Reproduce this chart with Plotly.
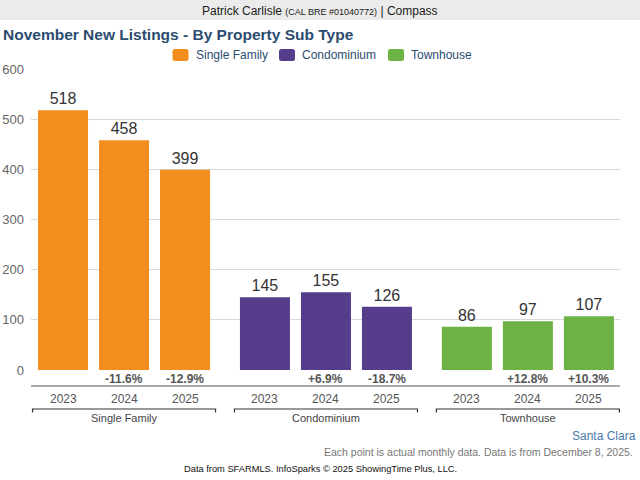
import plotly.graph_objects as go

# ---- data ----
groups = ["Single Family", "Condominium", "Townhouse"]
years = ["2023", "2024", "2025"]
single_family = [518, 458, 399]
condominium = [145, 155, 126]
townhouse = [86, 97, 107]
pct_single_family = ["", "-11.6%", "-12.9%"]
pct_condominium = ["", "+6.9%", "-18.7%"]
pct_townhouse = ["", "+12.8%", "+10.3%"]
colors = ["#F28E1E", "#553D8C", "#6CB244"]
y_ticks = [0, 100, 200, 300, 400, 500, 600]

series = [single_family, condominium, townhouse]
pcts = [pct_single_family, pct_condominium, pct_townhouse]

# layout geometry (pixels)
FW, FH = 640, 480
L, R, T, B = 31, 620, 69, 370
W, H = R - L, B - T
GROUP_STRIDE = 3.31
FONT = "Arial, Liberation Sans"
LEGEND_X = [172.5, 279, 388]  # swatch left edges in px


def px(xp):
    return (xp - L) / W


def py(yp):
    return (B - yp) / H


def pos(g, i):
    return g * GROUP_STRIDE + i


fig = go.Figure()
for g, name in enumerate(groups):
    fig.add_trace(go.Bar(
        name=name,
        x=[pos(g, i) for i in range(len(years))],
        y=series[g],
        width=0.82,
        marker=dict(color=colors[g], line=dict(width=0)),
        text=[str(v) for v in series[g]],
        textposition="outside",
        textfont=dict(size=16, color="#333333", family=FONT),
        cliponaxis=False,
        hoverinfo="skip",
        showlegend=False,
    ))

annotations = []
shapes = []

# header band
shapes.append(dict(type="rect", xref="paper", yref="paper",
                   x0=px(0), x1=px(FW), y0=py(20), y1=py(0),
                   fillcolor="#EBEBEB", line=dict(width=0), layer="below"))
annotations.append(dict(
    xref="paper", yref="paper", x=px(320), y=py(11), xanchor="center", yanchor="middle",
    text="Patrick Carlisle <span style='font-size:9px'>(CAL BRE #01040772)</span> | Compass",
    showarrow=False, font=dict(size=12, color="#1a1a1a", family=FONT)))

# title
annotations.append(dict(
    xref="paper", yref="paper", x=px(1), y=py(34), xanchor="left", yanchor="middle",
    text="<b>November New Listings - By Property Sub Type</b>",
    showarrow=False, font=dict(size=15.5, color="#2B4C6F", family=FONT)))

# legend (swatches + labels)
for g, name in enumerate(groups):
    x0p, x1p = LEGEND_X[g], LEGEND_X[g] + 16
    y0p, y1p = 49, 61
    r = 2.5
    xa, xb = px(x0p), px(x1p)
    rx = r / W
    ry = r / H
    ya, yb = py(y1p), py(y0p)  # bottom, top in paper
    path = (f"M {xa + rx},{ya} L {xb - rx},{ya} Q {xb},{ya} {xb},{ya + ry} "
            f"L {xb},{yb - ry} Q {xb},{yb} {xb - rx},{yb} L {xa + rx},{yb} "
            f"Q {xa},{yb} {xa},{yb - ry} L {xa},{ya + ry} Q {xa},{ya} {xa + rx},{ya} Z")
    shapes.append(dict(type="path", xref="paper", yref="paper", path=path,
                       fillcolor=colors[g], line=dict(width=0)))
    annotations.append(dict(
        xref="paper", yref="paper", x=px(x1p + 5), y=py(54.5), xanchor="left", yanchor="middle",
        text=name, showarrow=False,
        font=dict(size=12, color="#2B4C6F", family=FONT)))

# axis line below bars
shapes.append(dict(type="line", xref="paper", yref="paper", x0=0, x1=1,
                   y0=py(386), y1=py(386), line=dict(color="#555555", width=1.2)))

for g, name in enumerate(groups):
    for i, yr in enumerate(years):
        x = pos(g, i)
        if pcts[g][i]:
            annotations.append(dict(
                xref="x", yref="paper", x=x, y=py(379), xanchor="center", yanchor="middle",
                text="<b>" + pcts[g][i] + "</b>", showarrow=False,
                font=dict(size=12, color="#555555", family=FONT)))
        annotations.append(dict(
            xref="x", yref="paper", x=x, y=py(398.5), xanchor="center", yanchor="middle",
            text=yr, showarrow=False,
            font=dict(size=12, color="#555555", family=FONT)))
    c = pos(g, 1)
    x0, x1 = c - 1.5, c + 1.5
    shapes.append(dict(type="path", xref="x", yref="paper",
                       path=f"M {x0},{py(412.5)} L {x0},{py(409)} L {x1},{py(409)} L {x1},{py(412.5)}",
                       line=dict(color="#333333", width=1.2)))
    annotations.append(dict(
        xref="x", yref="paper", x=c, y=py(417.5), xanchor="center", yanchor="middle",
        text=name, showarrow=False,
        font=dict(size=11, color="#444444", family=FONT)))

# footer texts
annotations.append(dict(
    xref="paper", yref="paper", x=px(638), y=py(436), xanchor="right", yanchor="middle",
    text="Santa Clara", showarrow=False,
    font=dict(size=12, color="#4A78AA", family=FONT)))
annotations.append(dict(
    xref="paper", yref="paper", x=px(635), y=py(452), xanchor="right", yanchor="middle",
    text="Each point is actual monthly data. Data is from December 8, 2025.", showarrow=False,
    font=dict(size=10.5, color="#777777", family=FONT)))
annotations.append(dict(
    xref="paper", yref="paper", x=px(320), y=py(469), xanchor="center", yanchor="middle",
    text="Data from SFARMLS. InfoSparks © 2025 ShowingTime Plus, LLC.", showarrow=False,
    font=dict(size=9.3, color="#111111", family=FONT)))

fig.update_layout(
    width=FW, height=FH,
    autosize=False,
    margin=dict(l=L, r=FW - R, t=T, b=FH - B, pad=0, autoexpand=False),
    paper_bgcolor="white", plot_bgcolor="white",
    barmode="overlay",
    showlegend=False,
    xaxis=dict(range=[-0.525, 9.13], showticklabels=False, showgrid=False,
               zeroline=False, showline=False, ticks="", fixedrange=True, automargin=False),
    yaxis=dict(range=[0, 600], tickvals=y_ticks, showgrid=True, gridcolor="#D9D9D9",
               gridwidth=1, zeroline=False, showline=False, ticks="",
               tickfont=dict(size=13, color="#666666", family=FONT),
               ticklabelstandoff=6, fixedrange=True, automargin=False),
    shapes=shapes,
    annotations=annotations,
)

fig.write_html(
    "out.html",
    config={"displayModeBar": False},
    post_script="document.body.style.margin='0';document.body.style.padding='0';"
                "document.body.style.overflow='hidden';",
)
